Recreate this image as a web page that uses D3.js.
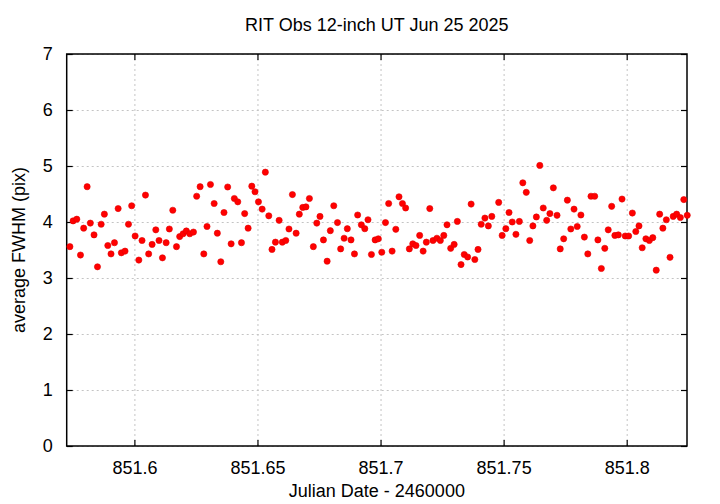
<!DOCTYPE html>
<html>
<head>
<meta charset="utf-8">
<script src="https://cdn.jsdelivr.net/npm/d3@7"></script>
<style>
  html, body { margin: 0; padding: 0; background: #fff; }
  svg { display: block; }
  text { font-family: "Liberation Sans", Arial, sans-serif; fill: #000; }
</style>
</head>
<body>
<svg id="chart" width="720" height="504"></svg>
<script>
const title = "RIT Obs 12-inch UT Jun 25 2025";
const xLabel = "Julian Date - 2460000";
const yLabel = "average FWHM (pix)";
const xDomain = [851.5725, 851.8245];
const yDomain = [0, 7];
const xTicks = [851.6, 851.65, 851.7, 851.75, 851.8];
const xTickLabels = ["851.6", "851.65", "851.7", "851.75", "851.8"];
const yTicks = [0, 1, 2, 3, 4, 5, 6, 7];
const yTickLabels = ["0", "1", "2", "3", "4", "5", "6", "7"];

const jd = [
  851.5738, 851.5751, 851.5766, 851.5781, 851.5794, 851.5808, 851.5821, 851.5836, 851.5850, 851.5865,
  851.5878, 851.5892, 851.5905, 851.5919, 851.5934, 851.5947, 851.5962, 851.5976, 851.5989, 851.6003,
  851.6018, 851.6031, 851.6045, 851.6058, 851.6072, 851.6087, 851.6100, 851.6114, 851.6129, 851.6142,
  851.6156, 851.6171, 851.6184, 851.6198, 851.6211,
  851.6225, 851.6240, 851.6253, 851.6267, 851.6282, 851.6295, 851.6309, 851.6324, 851.6337, 851.6351,
  851.6364, 851.6379, 851.6393, 851.6406, 851.6420, 851.6435, 851.6448, 851.6462, 851.6477, 851.6490,
  851.6504, 851.6519, 851.6532, 851.6546, 851.6559, 851.6573, 851.6588, 851.6601, 851.6615, 851.6628,
  851.6642, 851.6657, 851.6670, 851.6684, 851.6697, 851.6711,
  851.6727, 851.6741, 851.6754, 851.6768, 851.6783, 851.6796, 851.6810, 851.6825, 851.6838, 851.6852,
  851.6865, 851.6880, 851.6894, 851.6907, 851.6922, 851.6936, 851.6949, 851.6963, 851.6978, 851.6991,
  851.7005, 851.7020, 851.7033, 851.7047, 851.7062, 851.7075, 851.7089, 851.7102, 851.7117, 851.7131,
  851.7144, 851.7159, 851.7173, 851.7186, 851.7200, 851.7213,
  851.7229, 851.7243, 851.7257, 851.7270, 851.7285, 851.7299, 851.7312, 851.7327, 851.7340, 851.7354,
  851.7368, 851.7383, 851.7396, 851.7409, 851.7424, 851.7438, 851.7452, 851.7480, 851.7494, 851.7509,
  851.7522, 851.7535, 851.7550, 851.7564, 851.7578, 851.7592, 851.7606, 851.7619, 851.7633, 851.7647,
  851.7661, 851.7675, 851.7688, 851.7702,
  851.7717, 851.7730, 851.7744, 851.7759, 851.7773, 851.7786, 851.7799, 851.7814, 851.7828, 851.7842,
  851.7855, 851.7870, 851.7883, 851.7897, 851.7911, 851.7925, 851.7939, 851.7952, 851.7966, 851.7981,
  851.7994, 851.8008, 851.8023, 851.8037, 851.8050, 851.8063, 851.8078, 851.8092, 851.8106, 851.8120,
  851.8134, 851.8147, 851.8161, 851.8176, 851.8189, 851.8203, 851.8218, 851.8232, 851.8246
];
const fwhm = [
  3.56, 4.02, 4.05, 3.41, 3.89, 4.63, 3.98, 3.77, 3.20, 3.96,
  4.14, 3.58, 3.43, 3.63, 4.24, 3.45, 3.48, 3.96, 4.29, 3.75,
  3.32, 3.67, 4.48, 3.43, 3.60, 3.86, 3.67, 3.36, 3.63, 3.875,
  4.21, 3.56, 3.74, 3.79, 3.84,
  3.79, 3.82, 4.46, 4.63, 3.43, 3.92, 4.67, 4.33, 3.80, 3.29,
  4.17, 4.625, 3.61, 4.42, 4.36, 3.63, 4.15, 3.89, 4.64, 4.54,
  4.36, 4.23, 4.89, 4.11, 3.51, 3.64, 4.03, 3.64, 3.67, 3.875,
  4.49, 3.80, 4.14, 4.26, 4.27, 4.42,
  3.56, 3.98, 4.10, 3.68, 3.30, 3.845, 4.29, 3.99, 3.52, 3.71,
  3.88, 3.68, 3.43, 4.125, 3.95, 3.88, 4.04, 3.42, 3.68, 3.70,
  3.46, 3.99, 4.33, 3.48, 3.87, 4.45, 4.33, 4.25, 3.52, 3.61,
  3.58, 3.76, 3.48, 3.64, 4.24, 3.67,
  3.71, 3.67, 3.76, 3.95, 3.53, 3.60, 4.01, 3.24, 3.42, 3.375,
  4.32, 3.33, 3.51, 3.96, 4.07, 3.93, 4.10, 4.35, 3.76, 3.88,
  4.17, 4.00, 3.78, 4.01, 4.70, 4.53, 3.67, 3.93, 4.09, 5.01,
  4.25, 4.03, 4.15, 4.61,
  4.12, 3.52, 3.70, 4.39, 3.875, 4.23, 3.92, 4.125, 3.73, 3.43,
  4.46, 4.46, 3.68, 3.17, 3.53, 3.86, 4.28, 3.76, 3.77, 4.41,
  3.75, 3.75, 4.16, 3.83, 3.93, 3.54, 3.70, 3.67, 3.72, 3.14,
  4.14, 3.89, 4.04, 3.37, 4.10, 4.14, 4.08, 4.40, 4.12
];

const W = 720, H = 504;
const m = { left: 66.7, right: 687, top: 54, bottom: 446 };
const svg = d3.select("#chart");

const x = d3.scaleLinear().domain(xDomain).range([m.left, m.right]);
const y = d3.scaleLinear().domain(yDomain).range([m.bottom, m.top]);

// grid
const gridX = svg.append("g").attr("transform", `translate(0,${m.bottom})`)
  .call(d3.axisBottom(x).tickValues(xTicks).tickSize(-(m.bottom - m.top)).tickFormat(""));
const gridY = svg.append("g").attr("transform", `translate(${m.left},0)`)
  .call(d3.axisLeft(y).tickValues(yTicks).tickSize(-(m.right - m.left)).tickFormat(""));
[gridX, gridY].forEach(g => {
  g.select(".domain").remove();
  g.selectAll("line").attr("stroke", "#c4c4c4").attr("stroke-width", 1).attr("stroke-dasharray", "2,3");
});

// axes with inward ticks
const tk = 6;
const fontSize = 18;
const ax = svg.append("g").attr("transform", `translate(0,${m.bottom})`)
  .call(d3.axisBottom(x).tickValues(xTicks).tickSizeInner(-tk).tickSizeOuter(0).tickPadding(15)
    .tickFormat((d, i) => xTickLabels[i]));
const axTop = svg.append("g").attr("transform", `translate(0,${m.top})`)
  .call(d3.axisTop(x).tickValues(xTicks).tickSizeInner(-tk).tickSizeOuter(0).tickFormat(""));
const ay = svg.append("g").attr("transform", `translate(${m.left},0)`)
  .call(d3.axisLeft(y).tickValues(yTicks).tickSizeInner(-tk).tickSizeOuter(0).tickPadding(14)
    .tickFormat((d, i) => yTickLabels[i]));
const ayR = svg.append("g").attr("transform", `translate(${m.right},0)`)
  .call(d3.axisRight(y).tickValues(yTicks).tickSizeInner(-tk).tickSizeOuter(0).tickFormat(""));
[ax, axTop, ay, ayR].forEach(g => {
  g.select(".domain").remove();
  g.selectAll("line").attr("stroke", "#000").attr("stroke-width", 1.2);
  g.selectAll("text").attr("font-size", fontSize).attr("font-family", "Liberation Sans, Arial, sans-serif").attr("fill", "#000");
});

// border
svg.append("rect")
  .attr("x", m.left).attr("y", m.top)
  .attr("width", m.right - m.left).attr("height", m.bottom - m.top)
  .attr("fill", "none").attr("stroke", "#000").attr("stroke-width", 1.5);

// points
const data = jd.map((d, i) => ({ jd: d, v: fwhm[i] }));
svg.append("g").selectAll("circle").data(data).join("circle")
  .attr("cx", d => x(d.jd))
  .attr("cy", d => y(d.v))
  .attr("r", 3.1)
  .attr("fill", "#ff0000")
  .attr("stroke", "#e00000")
  .attr("stroke-width", 0.6);

// title and labels
svg.append("text")
  .attr("x", (m.left + m.right) / 2).attr("y", 31)
  .attr("text-anchor", "middle").attr("font-size", fontSize)
  .text(title);
svg.append("text")
  .attr("x", (m.left + m.right) / 2).attr("y", 497)
  .attr("text-anchor", "middle").attr("font-size", fontSize)
  .text(xLabel);
svg.append("text")
  .attr("transform", `translate(25,${(m.top + m.bottom) / 2}) rotate(-90)`)
  .attr("text-anchor", "middle").attr("font-size", fontSize)
  .text(yLabel);
</script>
</body>
</html>
